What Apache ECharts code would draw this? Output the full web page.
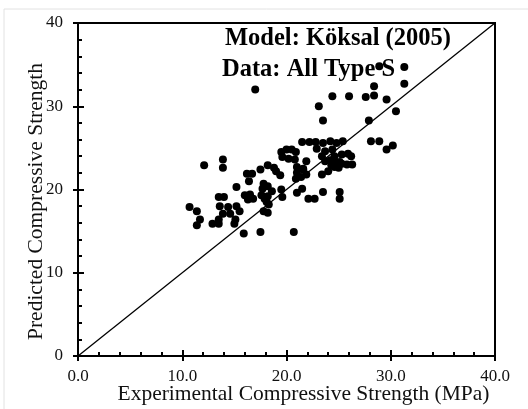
<!DOCTYPE html>
<html>
<head>
<meta charset="utf-8">
<script src="https://cdn.jsdelivr.net/npm/echarts@6/dist/echarts.min.js"></script>
<style>
html,body{margin:0;padding:0;background:#fff;}
#chart{width:528px;height:409px;}
</style>
</head>
<body>
<div id="chart"></div>
<script>
// Experimental compressive strength (MPa)
const expX = [
17.0,24.4,23.1,23.5,28.9,31.3,28.4,31.3,26.0,27.6,28.4,29.6,30.5,27.9,28.1,28.9,29.6,30.2,
21.5,22.2,22.8,23.5,24.2,24.8,25.4,
19.5,20.0,20.5,20.9,19.6,20.2,20.8,21.9,22.9,23.7,23.4,24.4,24.6,25.3,25.9,26.2,
23.7,24.2,24.3,25.1,24.7,25.3,25.8,26.3,25.0,24.6,24.0,23.4,
21.6,21.0,21.0,21.6,21.9,21.4,20.9,
12.1,13.9,13.9,16.2,16.7,16.4,17.5,18.2,18.8,19.0,19.4,
15.2,17.7,17.8,18.2,18.6,19.5,19.6,21.0,21.5,22.1,22.7,23.5,25.1,25.1,
13.5,14.0,16.0,16.5,16.8,16.3,17.6,17.9,18.2,18.1,18.3,
13.6,14.4,15.2,15.5,14.6,13.9,13.5,13.5,15.1,15.0,12.9,11.4,11.7,11.4,10.7,
17.8,18.2,15.9,17.5,20.7
];
// Predicted compressive strength
const predY = [
32.0,31.2,30.0,28.3,34.8,34.7,32.4,32.7,31.2,31.1,31.3,30.8,29.4,28.3,25.8,25.8,24.8,25.3,
25.7,25.7,25.7,25.6,25.8,25.6,25.8,
24.5,24.8,24.8,24.5,23.9,23.7,23.6,23.4,24.9,24.6,24.0,24.8,24.0,24.2,24.3,24.0,
23.4,23.5,22.9,23.3,23.3,23.1,23.0,23.0,22.6,22.7,22.2,21.8,
22.5,22.7,22.0,22.4,21.8,21.5,21.3,
22.9,23.6,22.6,21.9,21.9,21.0,22.4,22.9,22.6,22.2,21.7,
20.3,20.1,20.7,20.4,19.8,20.0,19.1,19.6,20.1,18.9,18.9,19.7,19.7,18.9,
19.1,19.1,19.3,19.4,18.9,18.8,19.3,18.9,19.2,18.5,18.2,
18.0,17.9,18.0,17.4,17.1,17.1,16.4,15.9,16.4,15.9,15.9,15.7,16.4,17.4,17.9,
17.4,17.2,14.7,14.9,14.9
];
// 1:1 reference line
const lineX = [0, 40];
const lineY = [0, 40];
const xTicks = [0, 10, 20, 30, 40];
const yTicks = [0, 10, 20, 30, 40];
const titleLines = ["Model: Köksal (2005)", "Data: All Type S"];
const xTitle = "Experimental Compressive Strength (MPa)";
const yTitle = "Predicted Compressive Strength";

const serif = '"Liberation Serif","Times New Roman",serif';
const points = expX.map((x, i) => [x, predY[i]]);
const diag = lineX.map((x, i) => [x, lineY[i]]);

const chart = echarts.init(document.getElementById('chart'), null, {renderer: 'canvas'});

const baseX = {
  type: 'value', min: xTicks[0], max: xTicks[xTicks.length - 1], interval: xTicks[1] - xTicks[0],
  position: 'bottom', splitLine: {show: false}
};
const baseY = {
  type: 'value', min: yTicks[0], max: yTicks[yTicks.length - 1], interval: yTicks[1] - yTicks[0],
  position: 'left', splitLine: {show: false}
};

chart.setOption({
  animation: false,
  backgroundColor: '#fff',
  grid: {left: 78, right: 33, top: 23, bottom: 53, show: true, borderColor: '#000', borderWidth: 2,
         containLabel: false, outerBoundsMode: 'none'},
  xAxis: [
    Object.assign({}, baseX, {
      axisLine: {show: true, onZero: false, lineStyle: {color: '#000', width: 2}},
      axisTick: {show: true, inside: true, length: 6, lineStyle: {color: '#000', width: 2}},
      minorTick: {show: true, splitNumber: 5, length: 4, lineStyle: {color: '#000', width: 2}},
      axisLabel: {formatter: v => v.toFixed(1), margin: 12, fontSize: 17, fontFamily: serif, color: '#111'},
      name: xTitle, nameLocation: 'middle', nameGap: 27, nameMoveOverlap: false,
      nameTextStyle: {fontSize: 21.5, fontFamily: serif, color: '#111', padding: [0, 0, 0, 34]}
    }),
    Object.assign({}, baseX, {
      axisLine: {show: true, onZero: false, lineStyle: {color: '#000', width: 2}},
      axisTick: {show: true, inside: false, length: 5, lineStyle: {color: '#000', width: 2}},
      axisLabel: {show: false}
    })
  ],
  yAxis: [
    Object.assign({}, baseY, {
      axisLine: {show: true, onZero: false, lineStyle: {color: '#000', width: 2}},
      axisTick: {show: true, inside: true, length: 6, lineStyle: {color: '#000', width: 2}},
      minorTick: {show: true, splitNumber: 5, length: 4, lineStyle: {color: '#000', width: 2}},
      axisLabel: {margin: 15, fontSize: 17, fontFamily: serif, color: '#111'},
      name: yTitle, nameLocation: 'middle', nameGap: 31, nameRotate: 90, nameMoveOverlap: false,
      nameTextStyle: {fontSize: 21.5, fontFamily: serif, color: '#111', padding: [0, 24, 0, 0]}
    }),
    Object.assign({}, baseY, {
      axisLine: {show: true, onZero: false, lineStyle: {color: '#000', width: 2}},
      axisTick: {show: true, inside: false, length: 5, lineStyle: {color: '#000', width: 2}},
      axisLabel: {show: false}
    })
  ],
  series: [
    {
      type: 'line', data: diag, xAxisIndex: 0, yAxisIndex: 0,
      symbol: 'none', lineStyle: {color: '#000', width: 1.3}, z: 1, silent: true
    },
    {
      type: 'scatter', data: points, xAxisIndex: 0, yAxisIndex: 0,
      symbol: 'circle', symbolSize: 8, itemStyle: {color: '#000', opacity: 1}, z: 3
    }
  ],
  graphic: [
    {type: 'rect', shape: {x: 4, y: 9, width: 700, height: 600}, style: {fill: 'none', stroke: '#e2e2e2', lineWidth: 1}, z: -10, silent: true},
    {type: 'text', left: 225, top: 26, style: {text: titleLines[0], font: 'bold 24.5px ' + serif, fill: '#000'}, z: 10},
    {type: 'text', left: 222, top: 57, style: {text: titleLines[1], font: 'bold 24.5px ' + serif, fill: '#000'}, z: 10}
  ]
});
</script>
</body>
</html>
